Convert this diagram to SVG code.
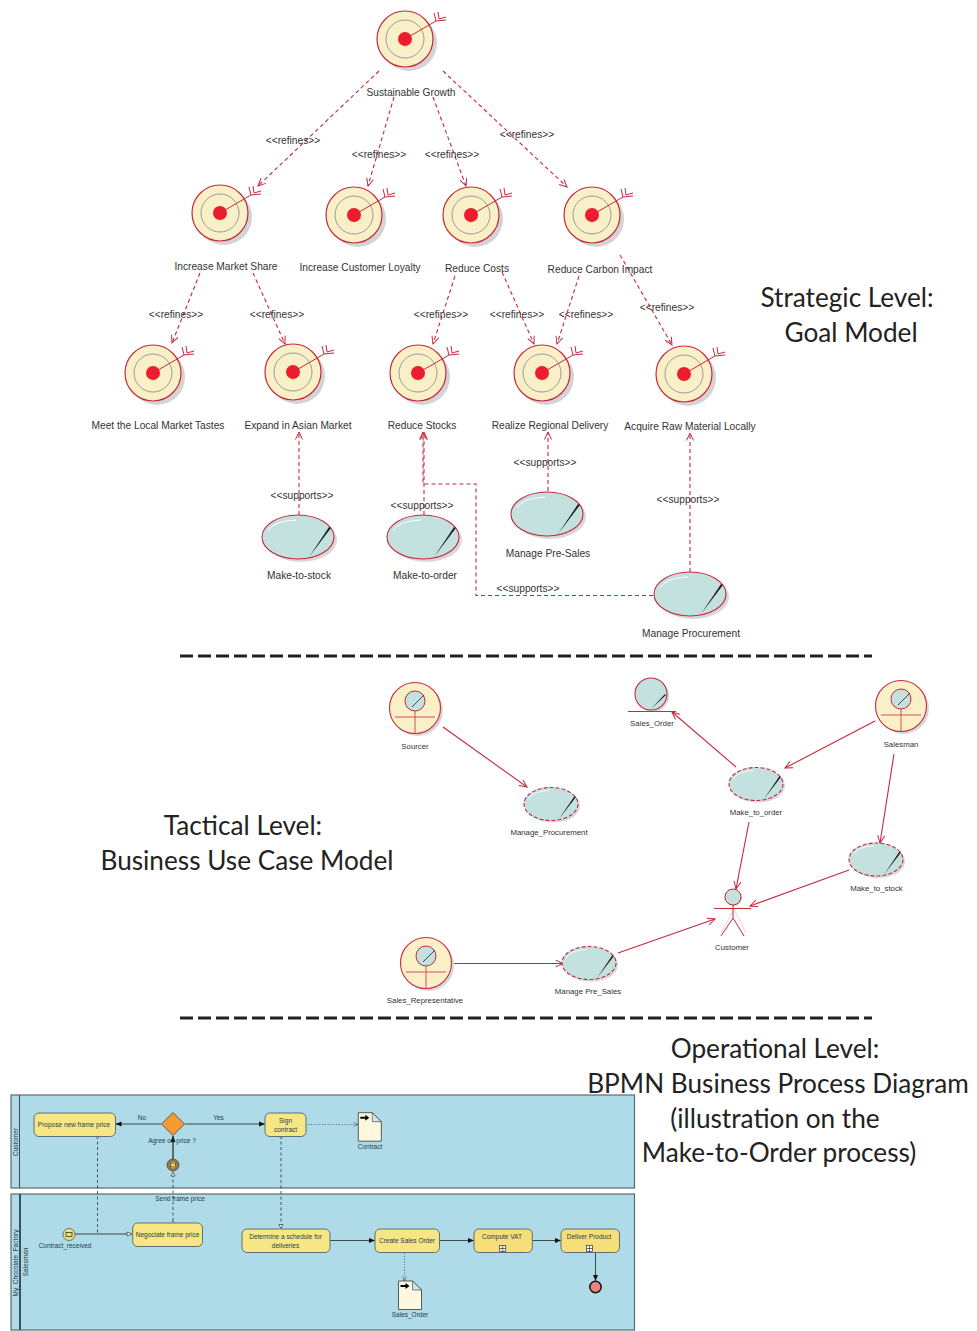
<svg xmlns="http://www.w3.org/2000/svg" width="977" height="1331" viewBox="0 0 977 1331">
<style>
text{font-family:"Liberation Sans",Arial,sans-serif;fill:#333}
.g{font-size:10.2px;text-anchor:middle}
.u{font-size:7.8px;text-anchor:middle}
.b{font-size:6.5px;text-anchor:middle;fill:#24404c}
.t{font-family:Lato,"Open Sans",sans-serif;font-size:26.2px;text-anchor:middle;fill:#222}
.ref{fill:none;stroke:#c8283c;stroke-width:1.1;stroke-dasharray:4 3;marker-end:url(#open)}
.as{fill:none;stroke:#c8283c;stroke-width:1.1;marker-end:url(#open)}
.sep{fill:none;stroke:#222;stroke-width:3;stroke-dasharray:13 5}
.pool{fill:#aedbe7;stroke:#5c6a70;stroke-width:1.2}
.task{fill:#f7e784;stroke:#5c7078;stroke-width:1}
.seq{fill:none;stroke:#222;stroke-width:.8;marker-end:url(#fill)}
.msg{fill:none;stroke:#333;stroke-width:.8;stroke-dasharray:3 2.5}
.dot{fill:none;stroke:#446;stroke-width:.7;stroke-dasharray:1.2 1.6;marker-end:url(#openb)}
.cir{fill:#fff;stroke:#333;stroke-width:.6}
.tri{fill:#fff;stroke:#333;stroke-width:.7}
</style>
<defs>
<marker id="open" markerWidth="10" markerHeight="10" refX="8.5" refY="4" orient="auto" markerUnits="userSpaceOnUse"><path d="M1 0.5L8.5 4L1 7.5" fill="none" stroke="#c8283c" stroke-width="1"/></marker>
<marker id="openb" markerWidth="6" markerHeight="6" refX="5" refY="2.5" orient="auto" markerUnits="userSpaceOnUse"><path d="M0.5 0.5L5 2.5L0.5 4.5" fill="none" stroke="#446" stroke-width=".6"/></marker>
<marker id="fill" markerWidth="7" markerHeight="6" refX="6" refY="3" orient="auto" markerUnits="userSpaceOnUse"><path d="M0 .5L6 3L0 5.5Z" fill="#111"/></marker>
<g id="goal">
<circle cx="4" cy="4" r="28" fill="#d4d4d4"/>
<circle r="28" fill="#faf0c8" stroke="#c8283c" stroke-width="1.2"/>
<circle r="19" fill="none" stroke="#999" stroke-width="1"/>
<circle r="7" fill="#ee1c2e"/>
<path d="M0 0L31 -18M29 -26L31 -18L41 -19M33 -27L34 -20L41 -22" fill="none" stroke="#c8283c" stroke-width="1"/>
</g>
<g id="uc">
<ellipse cx="3" cy="3" rx="36" ry="22" fill="#d8d8d8"/>
<ellipse rx="36" ry="22" fill="#c3e1df" stroke="#c8283c" stroke-width="1.1"/>
<path d="M-30 -6Q-25 -16 -2 -17" fill="none" stroke="#fff" stroke-width="1"/>
<path d="M11 20L33 -9L31 -10Z" fill="#222"/>
</g>
<g id="ucd">
<ellipse cx="2" cy="2" rx="27" ry="16.500" fill="#d8d8d8"/>
<ellipse rx="27" ry="16.500" fill="#c3e1df" stroke="#c8283c" stroke-width="1.1" stroke-dasharray="4 2"/>
<path d="M-23 -5Q-18 -13 -2 -13.500" fill="none" stroke="#fff" stroke-width=".8"/>
<path d="M8 15L25 -7L23.500 -8Z" fill="#222"/>
</g>
<g id="actor">
<circle cx="2.500" cy="2.500" r="25.500" fill="#d8d8d8"/>
<circle r="25.500" fill="#faf0c8" stroke="#c8283c" stroke-width="1.1"/>
<circle cy="-7" r="10" fill="#c3e1df" stroke="#c8283c" stroke-width="1"/>
<path d="M-3 -1L9 -13" stroke="#222" stroke-width=".8"/>
<path d="M0 3V25M-20 9H20" stroke="#d0505c" stroke-width="1" fill="none"/>
</g>
<g id="doc">
<path d="M0 0H14L23 9V28.500H0Z" fill="#fff8e0" stroke="#333" stroke-width=".8"/>
<path d="M14 0V9H23Z" fill="#cfe6ee" stroke="#333" stroke-width=".6"/>
<path d="M2 4H7V2L11 5L7 8V6H2Z" fill="#000"/>
</g>
<g id="sub"><rect x="-3" y="-3" width="6" height="6" fill="#fff" stroke="#333" stroke-width=".7"/><path d="M-3 0H3M0 -3V3" stroke="#333" stroke-width=".7"/></g>
</defs>

<g id="pool-customer">
<rect class="pool" x="11" y="1095" width="623.500" height="93"/>
<path d="M19.500 1095V1188" stroke="#445" stroke-width="1"/>
<text class="b" transform="translate(17.500 1142) rotate(-90)">Customer</text>
</g>
<g id="pool-factory">
<rect class="pool" x="11" y="1194" width="623.500" height="136"/>
<path d="M20 1194V1330" stroke="#3c5058" stroke-width="2"/>
<text class="b" transform="translate(17.500 1263) rotate(-90)">My_Chocolate_Factory</text>
<text class="b" transform="translate(28 1262) rotate(-90)">Salesman</text>
</g>

<g id="connectors">
<path class="ref" d="M379 71L258 186"/>
<path class="ref" d="M394 97L368 186"/>
<path class="ref" d="M433 97L466 186"/>
<path class="ref" d="M443 71L567 187"/>
<path class="ref" d="M200 273L172 343"/>
<path class="ref" d="M253 273L285 344"/>
<path class="ref" d="M455 276L433 344"/>
<path class="ref" d="M502 272L534 344"/>
<path class="ref" d="M579 276L557 344"/>
<path class="ref" d="M620 255L672 345"/>
<path class="ref" d="M299 515V432"/>
<path class="ref" d="M424 515V432"/>
<path class="ref" d="M548 491V432"/>
<path class="ref" d="M690 572V433"/>
<path class="ref" d="M653 595.500H476V484H423V432"/>
<path class="as" d="M443 727L527 787"/>
<path class="as" d="M736 767L672 712"/>
<path class="as" d="M875 721L785 768"/>
<path class="as" d="M894 754L880 843"/>
<path class="as" d="M749 822L736 889"/>
<path class="as" d="M849 870L750 906"/>
<path class="as" d="M618 953L715 919"/>
<path class="as" d="M454 963.500H563"/>
<path class="seq" d="M161 1124H115.500"/>
<path class="seq" d="M185 1124H265"/>
<path class="seq" d="M173 1159V1136" style="stroke-width:1.200"/>
<path class="msg" d="M97.500 1136V1234"/>
<path class="msg" d="M281 1136V1226"/>
<path class="msg" d="M173 1174V1223"/>
<path class="dot" d="M308 1124.500H358"/>
<path class="dot" d="M404.500 1253V1281"/>
<path d="M75 1234H128" fill="none" stroke="#222" stroke-width=".8"/>
<path class="seq" d="M330 1240.500H375"/>
<path class="seq" d="M439.500 1240.500H474"/>
<path class="seq" d="M532 1240.500H561"/>
<path class="seq" d="M595.500 1252.500V1281"/>
<circle class="cir" cx="97.500" cy="1136.500" r="1.500"/>
<circle class="cir" cx="281" cy="1136.500" r="1.500"/>
<circle class="cir" cx="173" cy="1223" r="1.500"/>
<path class="tri" d="M279 1224.500H283L281 1228.500Z"/>
<path class="tri" d="M171 1176H175L173 1172Z"/>
<path class="tri" d="M127 1232L132 1234L127 1236Z"/>
</g>

<g id="goal-sustainable"><use href="#goal" x="405" y="39"/><text class="g" x="411" y="96">Sustainable Growth</text></g>
<g id="goal-market"><use href="#goal" x="220" y="213"/><text class="g" x="226" y="270">Increase Market Share</text></g>
<g id="goal-loyalty"><use href="#goal" x="354" y="215"/><text class="g" x="360" y="271">Increase Customer Loyalty</text></g>
<g id="goal-costs"><use href="#goal" x="471" y="215"/><text class="g" x="477" y="272">Reduce Costs</text></g>
<g id="goal-carbon"><use href="#goal" x="592" y="215"/><text class="g" x="600" y="273">Reduce Carbon Impact</text></g>
<g id="goal-local"><use href="#goal" x="153" y="373"/><text class="g" x="158" y="429">Meet the Local Market Tastes</text></g>
<g id="goal-asian"><use href="#goal" x="293" y="372"/><text class="g" x="298" y="429">Expand in Asian Market</text></g>
<g id="goal-stocks"><use href="#goal" x="418" y="373"/><text class="g" x="422" y="429">Reduce Stocks</text></g>
<g id="goal-delivery"><use href="#goal" x="542" y="373"/><text class="g" x="550" y="429">Realize Regional Delivery</text></g>
<g id="goal-material"><use href="#goal" x="684" y="374"/><text class="g" x="690" y="430">Acquire Raw Material Locally</text></g>
<g id="uc-stock"><use href="#uc" x="298" y="537"/><text class="g" x="299" y="579">Make-to-stock</text></g>
<g id="uc-order"><use href="#uc" x="423" y="537"/><text class="g" x="425" y="579">Make-to-order</text></g>
<g id="uc-presales"><use href="#uc" x="547" y="514"/><text class="g" x="548" y="557">Manage Pre-Sales</text></g>
<g id="uc-procurement"><use href="#uc" x="690" y="594"/><text class="g" x="691" y="637">Manage Procurement</text></g>

<g id="connector-labels">
<text class="g" x="293" y="144">&lt;&lt;refines&gt;&gt;</text>
<text class="g" x="379" y="158">&lt;&lt;refines&gt;&gt;</text>
<text class="g" x="452" y="158">&lt;&lt;refines&gt;&gt;</text>
<text class="g" x="527" y="138">&lt;&lt;refines&gt;&gt;</text>
<text class="g" x="176" y="318">&lt;&lt;refines&gt;&gt;</text>
<text class="g" x="277" y="318">&lt;&lt;refines&gt;&gt;</text>
<text class="g" x="441" y="318">&lt;&lt;refines&gt;&gt;</text>
<text class="g" x="517" y="318">&lt;&lt;refines&gt;&gt;</text>
<text class="g" x="586" y="318">&lt;&lt;refines&gt;&gt;</text>
<text class="g" x="667" y="311">&lt;&lt;refines&gt;&gt;</text>
<text class="g" x="302" y="499">&lt;&lt;supports&gt;&gt;</text>
<text class="g" x="422" y="509">&lt;&lt;supports&gt;&gt;</text>
<text class="g" x="545" y="466">&lt;&lt;supports&gt;&gt;</text>
<text class="g" x="688" y="503">&lt;&lt;supports&gt;&gt;</text>
<text class="g" x="528" y="592">&lt;&lt;supports&gt;&gt;</text>
</g>

<path class="sep" d="M180 656H872"/>
<path class="sep" d="M180 1018H872"/>

<g id="actor-sourcer"><use href="#actor" x="415" y="708"/><text class="u" x="415" y="749">Sourcer</text></g>
<g id="uc-manage-procurement"><use href="#ucd" x="551" y="804"/><text class="u" x="549" y="835">Manage_Procurement</text></g>
<g id="entity-sales-order">
<circle cx="653" cy="696" r="16" fill="#d8d8d8"/>
<circle cx="651" cy="694" r="16" fill="#c3e1df" stroke="#c8283c" stroke-width="1.1"/>
<path d="M651 709L666 695L665 694Z" fill="#222"/>
<path d="M628 711.500H676" stroke="#c8283c" stroke-width="1" fill="none"/>
<text class="u" x="652" y="726">Sales_Order</text></g>
<g id="actor-salesman"><use href="#actor" x="901" y="706"/><text class="u" x="901" y="747">Salesman</text></g>
<g id="uc-make-order"><use href="#ucd" x="756" y="784"/><text class="u" x="756" y="815">Make_to_order</text></g>
<g id="uc-make-stock"><use href="#ucd" x="876" y="859.500"/><text class="u" x="876.500" y="891">Make_to_stock</text></g>
<g id="actor-customer">
<path d="M721 933L734 909L746 933" fill="none" stroke="#ddd" stroke-width="1"/>
<circle cx="734" cy="898" r="8" fill="#d8d8d8"/>
<circle cx="733" cy="897" r="8" fill="#c3e1df" stroke="#c8283c" stroke-width="1"/>
<path d="M714 908.500H751M733 905V918L721 936M733 918L744 936" fill="none" stroke="#c8283c" stroke-width="1"/>
<text class="u" x="732" y="950">Customer</text></g>
<g id="actor-sales-rep"><use href="#actor" x="426" y="963"/><text class="u" x="425" y="1003">Sales_Representative</text></g>
<g id="uc-presales2"><use href="#ucd" x="589" y="963"/><text class="u" x="588" y="994">Manage Pre_Sales</text></g>

<g id="titles">
<text class="t" x="847" y="307">Strategic Level:</text>
<text class="t" x="851" y="342">Goal Model</text>
<text class="t" x="243" y="835">Tactical Level:</text>
<text class="t" x="247" y="870">Business Use Case Model</text>
<text class="t" x="775" y="1058">Operational Level:</text>
<text class="t" x="778" y="1093">BPMN Business Process Diagram</text>
<text class="t" x="775" y="1128">(illustration on the</text>
<text class="t" x="779" y="1162">Make-to-Order process)</text>
</g>

<g id="task-propose"><rect class="task" x="34" y="1113" width="81.500" height="23.500" rx="5"/><text class="b" x="74" y="1126.500">Propose new frame price</text></g>
<g id="gateway-agree"><path d="M173 1112.500L184.500 1124L173 1135.500L161.500 1124Z" fill="#f79a30" stroke="#445" stroke-width=".8"/><text class="b" x="172" y="1143">Agree on price ?</text></g>
<text class="b" x="142" y="1120">No</text>
<text class="b" x="218.500" y="1120">Yes</text>
<g id="event-send"><circle cx="173" cy="1165" r="6" fill="#a07840" stroke="#445" stroke-width=".8"/><circle cx="173" cy="1165" r="4" fill="#e8d060" stroke="#333" stroke-width=".5"/><rect x="170.500" y="1163" width="5" height="4" fill="#e8d060" stroke="#222" stroke-width=".6"/><text class="b" x="180" y="1201">Send frame price</text></g>
<g id="task-sign"><rect class="task" x="265" y="1113" width="41" height="23.500" rx="5"/><text class="b" x="285.500" y="1123">Sign</text><text class="b" x="285.500" y="1131.500">contract</text></g>
<g id="doc-contract"><use href="#doc" x="358.300" y="1112.700"/><text class="b" x="370" y="1148.500">Contract</text></g>
<g id="event-received"><circle cx="69" cy="1234.500" r="6" fill="#e8e07c" stroke="#556" stroke-width=".8"/><rect x="66" y="1232.500" width="6" height="4" fill="#e8e07c" stroke="#222" stroke-width=".7"/><text class="b" x="65" y="1247.500">Contract_received</text></g>
<g id="task-negotiate"><rect class="task" x="132.700" y="1223" width="69.800" height="23.500" rx="5"/><text class="b" x="167.500" y="1237">Negociate frame price</text></g>
<g id="task-determine"><rect class="task" x="242" y="1229" width="88" height="23.500" rx="5"/><text class="b" x="285.500" y="1239">Determine a schedule for</text><text class="b" x="285.500" y="1247.500">deliveries</text></g>
<g id="task-create"><rect class="task" x="375" y="1229" width="64.500" height="23.500" rx="5"/><text class="b" x="407" y="1242.700">Create Sales Order</text></g>
<g id="task-vat"><rect class="task" x="474" y="1229" width="58.300" height="23.500" rx="5" style="fill:#f6df78"/><text class="b" x="502" y="1239">Compute VAT</text><use href="#sub" x="502.700" y="1248.500"/></g>
<g id="task-deliver"><rect class="task" x="561" y="1229" width="58.500" height="23.500" rx="5" style="fill:#f6df78"/><text class="b" x="589" y="1239">Deliver Product</text><use href="#sub" x="589.500" y="1248.500"/></g>
<g id="doc-sales-order"><use href="#doc" x="398.500" y="1281"/><text class="b" x="410" y="1316.700">Sales_Order</text></g>
<g id="event-end"><circle cx="595.500" cy="1287" r="5.700" fill="#f08080" stroke="#111" stroke-width="1.500"/></g>
</svg>
